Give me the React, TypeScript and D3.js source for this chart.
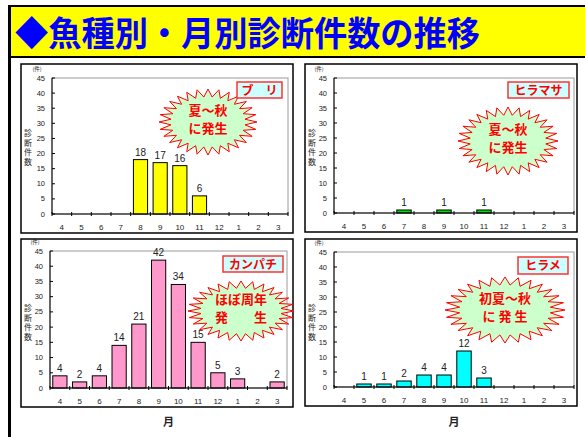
import React from "react";
import * as d3 from "d3";

// data
const months = ["4", "5", "6", "7", "8", "9", "10", "11", "12", "1", "2", "3"];
const yTicks = [0, 5, 10, 15, 20, 25, 30, 35, 40, 45];
const buriValues = [0, 0, 0, 0, 18, 17, 16, 6, 0, 0, 0, 0];
const hiramasaValues = [0, 0, 0, 1, 0, 1, 0, 1, 0, 0, 0, 0];
const kanpachiValues = [4, 2, 4, 14, 21, 42, 34, 15, 5, 3, 0, 2];
const hirameValues = [0, 1, 1, 2, 4, 4, 12, 3, 0, 0, 0, 0];

const TITLE = "◆魚種別・月別診断件数の推移";
const JP = "'Noto Sans CJK JP', sans-serif";
const NUM = "'Liberation Sans', Arial, sans-serif";

type Box = { x: number; y: number; w: number; h: number };
type Plot = { l: number; r: number; t: number; b: number };
type Burst = { cx: number; cy: number; rx: number; ry: number; lines: string[] };

// star shaped callout polygon
const burstPath = (b: Burst, n = 28) => {
  const pts: [number, number][] = [];
  for (let i = 0; i < n * 2; i++) {
    const a = (Math.PI * i) / n - Math.PI / 2;
    const k = i % 2 === 0 ? 1 : 0.76;
    pts.push([b.cx + Math.cos(a) * b.rx * k, b.cy + Math.sin(a) * b.ry * k]);
  }
  return d3.line()(pts) + "Z";
};

type PanelProps = {
  box: Box;
  plot: Plot;
  values: number[];
  color: string;
  name: string;
  label: Box;
  burst: Burst;
  month?: boolean;
};

const Panel = ({ box, plot, values, color, name, label, burst, month }: PanelProps) => {
  const x = d3.scaleBand<string>().domain(months).range([plot.l, plot.r]).paddingInner(0.28).paddingOuter(0.14);
  const y = d3.scaleLinear().domain([0, 45]).range([plot.b, plot.t]);
  const step = (plot.r - plot.l) / months.length;
  const data = months.map((m, i) => ({ m, v: values[i] }));

  return (
    <g>
      <rect x={box.x} y={box.y} width={box.w} height={box.h} fill="#fff" stroke="#000" strokeWidth={1.5} />
      {/* plot frame */}
      <rect x={plot.l} y={plot.t} width={plot.r - plot.l} height={plot.b - plot.t} fill="none" stroke="#9a9a9a" strokeWidth={1} />
      {/* y axis */}
      <line x1={plot.l} x2={plot.l} y1={plot.t} y2={plot.b} stroke="#000" strokeWidth={1} />
      {yTicks.map((t) => (
        <g key={t}>
          <line x1={plot.l} x2={plot.l + 3} y1={y(t)} y2={y(t)} stroke="#000" />
          <text x={plot.l - 7} y={y(t) + 2.5} textAnchor="end" fontSize={7.5} fontFamily={NUM} fill="#222">
            {t}
          </text>
        </g>
      ))}
      <text x={plot.l - 15} y={plot.t - 7} textAnchor="middle" fontSize={5.5} fontFamily={JP} fill="#222">
        (件)
      </text>
      {"診断件数".split("").map((c, i) => (
        <text key={c} x={box.x + 7} y={box.y + 72 + i * 9.5} textAnchor="middle" fontSize={8} fontFamily={JP} fill="#222">
          {c}
        </text>
      ))}
      {/* bars */}
      {data.map((d) =>
        d.v > 0 ? (
          <g key={d.m}>
            <rect x={x(d.m)} y={y(d.v)} width={x.bandwidth()} height={y(0) - y(d.v)} fill={color} stroke="#000" strokeWidth={1} />
            <text x={(x(d.m) as number) + x.bandwidth() / 2} y={y(d.v) - 4} textAnchor="middle" fontSize={10} fontFamily={NUM} fill="#222">
              {d.v}
            </text>
          </g>
        ) : null
      )}
      {/* x axis */}
      <line x1={plot.l} x2={plot.r} y1={plot.b} y2={plot.b} stroke="#000" strokeWidth={1.2} />
      {d3.range(months.length + 1).map((i) => (
        <line key={i} x1={plot.l + i * step} x2={plot.l + i * step} y1={plot.b - 2} y2={plot.b + 2} stroke="#000" />
      ))}
      {months.map((m) => (
        <text key={m} x={(x(m) as number) + x.bandwidth() / 2} y={plot.b + 16} textAnchor="middle" fontSize={8} fontFamily={NUM} fill="#222">
          {m}
        </text>
      ))}
      {/* callout */}
      <path d={burstPath(burst)} fill="#ccffcc" stroke="#ff0000" strokeWidth={1} />
      {burst.lines.map((l, i) => (
        <text
          key={i}
          x={burst.cx}
          y={burst.cy + 2 + (i - (burst.lines.length - 1) / 2) * 17.5}
          textAnchor="middle"
          fontSize={13}
          fontWeight="bold"
          fontFamily={JP}
          fill="#ff0000"
          style={{ whiteSpace: "pre" }}
        >
          {l}
        </text>
      ))}
      {/* species label */}
      <rect x={label.x} y={label.y} width={label.w} height={label.h} fill="#ccffff" stroke="#ff3333" strokeWidth={1.5} />
      <text
        x={label.x + label.w / 2}
        y={label.y + label.h / 2 + 4.5}
        textAnchor="middle"
        fontSize={12}
        fontWeight="bold"
        fontFamily={JP}
        fill="#ff0000"
        style={{ whiteSpace: "pre" }}
      >
        {name}
      </text>
      {month && (
        <text x={(plot.l + plot.r) / 2} y={426} textAnchor="middle" fontSize={11} fontWeight="bold" fontFamily={JP} fill="#222">
          月
        </text>
      )}
    </g>
  );
};

export default function App() {
  return (
    <svg width={585} height={437} style={{ position: "absolute", left: 0, top: 0, background: "#fff" }}>
      <rect x={0} y={0} width={585} height={437} fill="#fff" />
      {/* title band */}
      <rect x={9} y={6} width={580} height={51} fill="#ffff00" stroke="#000" strokeWidth={2} />
      <line x1={9.5} x2={9.5} y1={5} y2={437} stroke="#000" strokeWidth={3} />
      <text x={15} y={46} fontSize={34} fontWeight="bold" fontFamily={JP} fill="#0000ff" textLength={465} lengthAdjust="spacingAndGlyphs">
        {TITLE}
      </text>

      <Panel
        box={{ x: 21, y: 64, w: 272, h: 169 }}
        plot={{ l: 52, r: 288, t: 78, b: 214 }}
        values={buriValues}
        color="#ffff00"
        name={"ブ　リ"}
        label={{ x: 237, y: 82, w: 45, h: 16 }}
        burst={{ cx: 208, cy: 122, rx: 49, ry: 33, lines: ["夏～秋", "に発生"] }}
      />
      <Panel
        box={{ x: 305, y: 64, w: 272, h: 168 }}
        plot={{ l: 334, r: 574, t: 78, b: 213 }}
        values={hiramasaValues}
        color="#00dd00"
        name="ヒラマサ"
        label={{ x: 508, y: 82, w: 61, h: 16 }}
        burst={{ cx: 508, cy: 141, rx: 50, ry: 34, lines: ["夏～秋", "に発生"] }}
      />
      <Panel
        box={{ x: 21, y: 239, w: 272, h: 168 }}
        plot={{ l: 50, r: 287, t: 251, b: 388 }}
        values={kanpachiValues}
        color="#ff99cc"
        name="カンパチ"
        label={{ x: 223, y: 256, w: 60, h: 16 }}
        burst={{ cx: 241, cy: 311, rx: 53, ry: 30, lines: ["ほぼ周年", "発　　生"] }}
        month
      />
      <Panel
        box={{ x: 305, y: 239, w: 272, h: 167 }}
        plot={{ l: 334, r: 574, t: 252, b: 387 }}
        values={hirameValues}
        color="#00ffff"
        name="ヒラメ"
        label={{ x: 518, y: 257, w: 50, h: 17 }}
        burst={{ cx: 505, cy: 310, rx: 60, ry: 33, lines: ["初夏～秋", "に 発 生"] }}
        month
      />
    </svg>
  );
}
